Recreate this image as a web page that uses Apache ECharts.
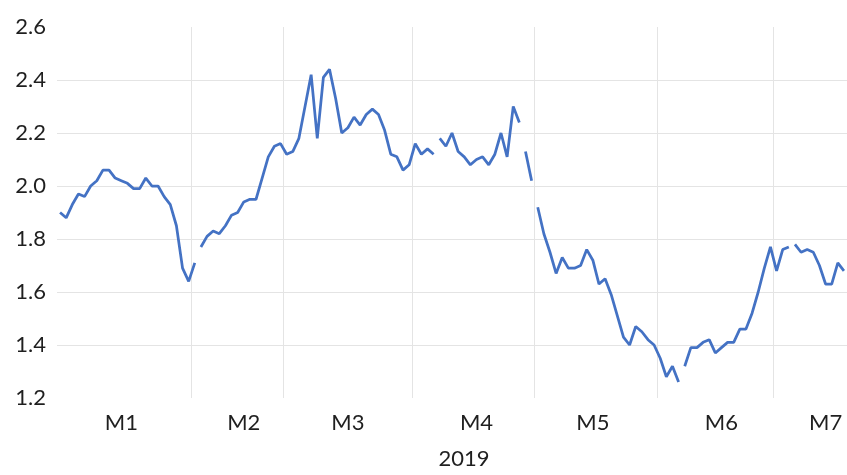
<!DOCTYPE html>
<html>
<head>
<meta charset="utf-8">
<script src="https://cdn.jsdelivr.net/npm/echarts@6/dist/echarts.min.js"></script>
<style>
html,body{margin:0;padding:0;background:#fff;}
#chart{width:847px;height:475px;}
</style>
</head>
<body>
<div id="chart"></div>
<script>
// ---- data ----
const monthNames = ['M1', 'M2', 'M3', 'M4', 'M5', 'M6', 'M7'];
const m1Values = [1.90,1.88,1.93,1.97,1.96,2.00,2.02,2.06,2.06,2.03,2.02,2.01,1.99,1.99,2.03,2.00,2.00,1.96,1.93,1.85,1.69,1.64];
const m2Values = [1.71,1.77,1.81,1.83,1.82,1.85,1.89,1.90,1.94,1.95,1.95,2.03,2.11,2.15,2.16];
const m3Values = [2.12,2.13,2.18,2.30,2.42,2.18,2.41,2.44,2.33,2.20,2.22,2.26,2.23,2.27,2.29,2.27,2.21,2.12,2.11,2.06,2.08];
const m4Values = [2.16,2.12,2.14,2.12,2.18,2.15,2.20,2.13,2.11,2.08,2.10,2.11,2.08,2.12,2.20,2.11,2.30,2.24,2.13,2.02];
const m5Values = [1.92,1.82,1.75,1.67,1.73,1.69,1.69,1.70,1.76,1.72,1.63,1.65,1.59,1.51,1.43,1.40,1.47,1.45,1.42,1.40];
const m6Values = [1.35,1.28,1.32,1.26,1.32,1.39,1.39,1.41,1.42,1.37,1.39,1.41,1.41,1.46,1.46,1.52,1.60,1.69,1.77];
const m7Values = [1.68,1.76,1.77,1.78,1.75,1.76,1.75,1.70,1.63,1.63,1.71,1.68];
// line breaks: each [start, end] index range is drawn as one connected piece
const segments = [[0,22],[23,61],[62,75],[76,77],[78,101],[102,119],[120,128]];
const yTicks = [1.2, 1.4, 1.6, 1.8, 2.0, 2.2, 2.4, 2.6];
const axisTitle = '2019';

// ---- build ----
const monthValues = [m1Values, m2Values, m3Values, m4Values, m5Values, m6Values, m7Values];
const categories = [];
const values = [];
const monthStart = [];
monthValues.forEach((arr, m) => {
  monthStart.push(categories.length);
  arr.forEach((v, d) => { categories.push(monthNames[m] + '-' + (d + 1)); values.push(v); });
});
// category index at which each month label is drawn
const labelAt = {10: 'M1', 30: 'M2', 47: 'M3', 68: 'M4', 87: 'M5', 108: 'M6', 125: 'M7'};
const boundarySet = new Set(monthStart.slice(1));

const series = segments.map(([a, b]) => ({
  type: 'line',
  data: values.map((v, i) => (i >= a && i <= b ? v : null)),
  connectNulls: false,
  showSymbol: false,
  symbol: 'none',
  lineStyle: { color: '#4472C4', width: 2.75 },
  itemStyle: { color: '#4472C4' },
  animation: false,
  silent: true
}));

const font = 'Lato, "Open Sans", sans-serif';
const grid = '#e4e4e4';
const splitColors = yTicks.map((t, i) => (i === 0 || i === yTicks.length - 1) ? 'rgba(0,0,0,0)' : grid);

const chart = echarts.init(document.getElementById('chart'), null, { renderer: 'canvas' });
chart.setOption({
  animation: false,
  backgroundColor: '#ffffff',
  grid: { left: 57, right: -2, top: 27, bottom: 70, containLabel: false },
  xAxis: {
    type: 'category',
    data: categories,
    boundaryGap: true,
    name: axisTitle,
    nameLocation: 'middle',
    nameGap: 50,
    nameTextStyle: { fontFamily: font, fontSize: 22, color: '#1f1f1f', padding: [0, 0, 0, 24] },
    axisLine: { show: false },
    axisTick: { show: false },
    axisLabel: {
      interval: (i) => labelAt[i] !== undefined,
      formatter: (v, i) => labelAt[i] || '',
      fontFamily: font, fontSize: 22, color: '#1f1f1f', margin: 14
    },
    splitLine: {
      show: true,
      interval: (i) => boundarySet.has(i),
      lineStyle: { color: grid, width: 1 }
    }
  },
  yAxis: {
    type: 'value',
    min: yTicks[0],
    max: yTicks[yTicks.length - 1],
    interval: 0.2,
    axisLine: { show: false },
    axisTick: { show: false },
    axisLabel: {
      formatter: (v) => v.toFixed(1),
      fontFamily: font, fontSize: 22, color: '#1f1f1f', margin: 11
    },
    splitLine: { show: true, lineStyle: { color: splitColors, width: 1 } }
  },
  series: series
});
</script>
</body>
</html>
